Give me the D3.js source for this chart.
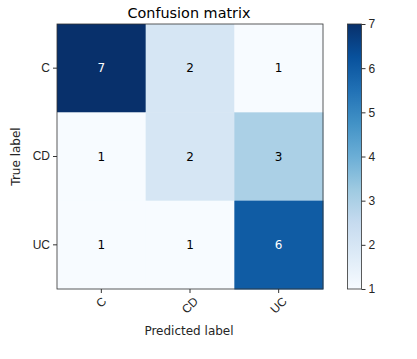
<!DOCTYPE html>
<html>
<head>
<meta charset="utf-8">
<script src="https://cdn.jsdelivr.net/npm/d3@7"></script>
<style>
  body { margin: 0; background: #fff; }
  svg { font-family: "DejaVu Sans", sans-serif; }
  .tick text { fill: #262626; }
</style>
</head>
<body>
<svg id="canvas"></svg>
<script>
let classes = ["C", "CD", "UC"];
let rowC = [7, 2, 1];
let rowCD = [1, 2, 3];
let rowUC = [1, 1, 6];
let cbTicks = [1, 2, 3, 4, 5, 6, 7];

let width = 417;
let height = 359;

let canvas = d3.select("#canvas")
  .attr("width", width)
  .attr("height", height);

let rows = [rowC, rowCD, rowUC];
let cells = [];
rows.forEach((r, i) => r.forEach((v, j) => cells.push({ row: classes[i], col: classes[j], value: v })));

// matplotlib Blues
let blues = ["#f7fbff", "#deebf7", "#c6dbef", "#9ecae1", "#6baed6", "#4292c6", "#2171b5", "#08519c", "#08306b"];
let vmin = 1, vmax = 7;
let color = d3.scaleLinear()
  .domain(blues.map((c, i) => vmin + (vmax - vmin) * i / (blues.length - 1)))
  .range(blues)
  .interpolate(d3.interpolateRgb);

let xScale = d3.scaleBand().domain(classes).range([57, 323]);
let yScale = d3.scaleBand().domain(classes).range([24, 289]);

canvas.selectAll("rect.cell")
  .data(cells)
  .enter()
  .append("rect")
  .attr("class", "cell")
  .attr("x", d => xScale(d.col))
  .attr("y", d => yScale(d.row))
  .attr("width", xScale.bandwidth() + 0.5)
  .attr("height", yScale.bandwidth() + 0.5)
  .attr("fill", d => color(d.value));

let thresh = vmax / 2;
canvas.selectAll("text.val")
  .data(cells)
  .enter()
  .append("text")
  .attr("class", "val")
  .attr("x", d => xScale(d.col) + xScale.bandwidth() / 2)
  .attr("y", d => yScale(d.row) + yScale.bandwidth() / 2)
  .attr("text-anchor", "middle")
  .attr("dy", "0.35em")
  .attr("font-size", 12)
  .attr("fill", d => d.value > thresh ? "#fff" : "#000")
  .text(d => d.value);

canvas.append("rect")
  .attr("x", 57).attr("y", 24)
  .attr("width", 266).attr("height", 265)
  .attr("fill", "none").attr("stroke", "#333").attr("stroke-width", 0.8);

let xAxis = d3.axisBottom(xScale).tickSize(4).tickPadding(3);
let gx = canvas.append("g")
  .attr("transform", "translate(0," + 289 + ")")
  .call(xAxis);
gx.select(".domain").remove();
gx.selectAll(".tick line").attr("stroke", "#333");
gx.selectAll(".tick text")
  .attr("font-size", 12)
  .attr("text-anchor", "middle")
  .attr("dy", null)
  .attr("y", null)
  .attr("dominant-baseline", "central")
  .attr("transform", function () {
    let w = this.getComputedTextLength();
    let off = 7 + (w + 9) * 0.7071 / 2;
    return "translate(0," + off + ") rotate(-45)";
  });

let yAxis = d3.axisLeft(yScale).tickSize(4).tickPadding(3);
let gy = canvas.append("g")
  .attr("transform", "translate(" + 57 + ",0)")
  .call(yAxis);
gy.select(".domain").remove();
gy.selectAll(".tick line").attr("stroke", "#333");
gy.selectAll(".tick text").attr("font-size", 12);

canvas.append("text")
  .attr("x", 189).attr("y", 18)
  .attr("text-anchor", "middle")
  .attr("font-size", 14.4)
  .attr("fill", "#000")
  .text("Confusion matrix");

canvas.append("text")
  .attr("x", 189).attr("y", 335)
  .attr("text-anchor", "middle")
  .attr("font-size", 12)
  .attr("fill", "#262626")
  .text("Predicted label");

canvas.append("text")
  .attr("transform", "translate(20," + 156.5 + ") rotate(-90)")
  .attr("text-anchor", "middle")
  .attr("font-size", 12)
  .attr("fill", "#262626")
  .text("True label");

// colorbar
let cbX = 347.5, cbW = 14;
let cbScale = d3.scaleLinear().domain([vmin, vmax]).range([289, 24]);
let defs = canvas.append("defs");
let grad = defs.append("linearGradient")
  .attr("id", "cbgrad")
  .attr("x1", 0).attr("y1", 1).attr("x2", 0).attr("y2", 0);
grad.selectAll("stop")
  .data(blues)
  .enter()
  .append("stop")
  .attr("offset", (c, i) => i / (blues.length - 1))
  .attr("stop-color", c => c);

canvas.append("rect")
  .attr("x", cbX).attr("y", cbScale(vmax))
  .attr("width", cbW).attr("height", cbScale(vmin) - cbScale(vmax))
  .attr("fill", "url(#cbgrad)")
  .attr("stroke", "#333").attr("stroke-width", 0.8);

let cbAxis = d3.axisRight(cbScale).tickValues(cbTicks).tickFormat(d3.format("d")).tickSize(4).tickPadding(3);
let gc = canvas.append("g")
  .attr("transform", "translate(" + (cbX + cbW) + ",0)")
  .call(cbAxis);
gc.select(".domain").remove();
gc.selectAll(".tick line").attr("stroke", "#333");
gc.selectAll(".tick text").attr("font-size", 12);
</script>
</body>
</html>
